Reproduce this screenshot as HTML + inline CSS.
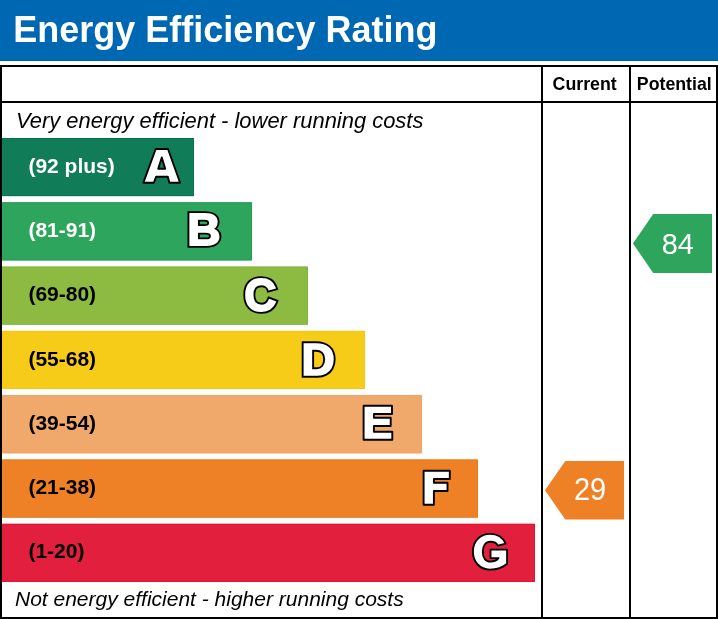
<!DOCTYPE html>
<html>
<head>
<meta charset="utf-8">
<title>Energy Efficiency Rating</title>
<style>
html,body{margin:0;padding:0;background:#fff;}
body{width:718px;height:619px;overflow:hidden;}
svg{display:block;will-change:transform;}
text{font-family:"Liberation Sans",sans-serif;}
.t{font-weight:bold;fill:#fff;font-size:36px;}
.i{font-style:italic;fill:#000;font-size:21px;}
.i2{font-size:21.93px;}
.h{font-weight:bold;fill:#000;font-size:17.75px;}
.r{font-weight:bold;font-size:21px;}
.n{fill:#fff;font-size:29px;}
.L text{font-weight:bold;font-size:44px;stroke-linejoin:miter;stroke-miterlimit:1.5;vector-effect:non-scaling-stroke;}
.P path{fill:#fff;stroke:#000;stroke-width:1.9px;stroke-linejoin:round;}
.Lo{fill:#000;stroke:#000;stroke-width:5.60px;}
.Li{fill:#fff;stroke:#fff;stroke-width:1.80px;}
</style>
</head>
<body>
<svg width="718" height="619" viewBox="0 0 718 619">
<rect x="0" y="0" width="718" height="619" fill="#fff"/>
<!-- header -->
<rect x="0" y="0" width="718" height="61" fill="#0068b2"/>
<rect x="0" y="60" width="718" height="1" fill="#0061ab"/>
<text class="t" x="13.3" y="42">Energy Efficiency Rating</text>
<!-- frame -->
<rect x="0" y="65" width="718" height="2" fill="#000"/>
<rect x="0" y="617" width="718" height="2" fill="#000"/>
<rect x="0" y="65" width="2" height="554" fill="#000"/>
<rect x="716" y="65" width="2" height="554" fill="#000"/>
<rect x="0" y="101" width="718" height="2" fill="#000"/>
<rect x="541" y="65" width="2" height="554" fill="#000"/>
<rect x="629" y="65" width="2" height="554" fill="#000"/>
<!-- column heads -->
<text class="h" x="552.6" y="90">Current</text>
<text class="h" x="636.8" y="90">Potential</text>
<!-- captions -->
<text class="i i2" x="16" y="128">Very energy efficient - lower running costs</text>
<text class="i" x="15" y="606">Not energy efficient - higher running costs</text>
<!-- bars -->
<rect x="2" y="138" width="192" height="58.1" fill="#117d58"/><path d="M2,138.5 H193.5 V195.6 H2" fill="none" stroke="#06744d" stroke-width="1"/>
<rect x="2" y="202.3" width="250" height="58.1" fill="#2da55d"/><path d="M2,202.8 H251.5 V259.9 H2" fill="none" stroke="#239f53" stroke-width="1"/>
<rect x="2" y="266.6" width="306" height="58.1" fill="#8dbb42"/><path d="M2,267.1 H307.5 V324.2 H2" fill="none" stroke="#83b537" stroke-width="1"/>
<rect x="2" y="330.9" width="363" height="58.1" fill="#f6cc18"/><path d="M2,331.4 H364.5 V388.5 H2" fill="none" stroke="#f3c80d" stroke-width="1"/>
<rect x="2" y="395.2" width="420" height="58.1" fill="#f1a86b"/><path d="M2,395.7 H421.5 V452.8 H2" fill="none" stroke="#efa262" stroke-width="1"/>
<rect x="2" y="459.5" width="476" height="58.1" fill="#ee8125"/><path d="M2,460 H477.5 V517.1 H2" fill="none" stroke="#eb7a1c" stroke-width="1"/>
<rect x="2" y="523.8" width="533" height="58.1" fill="#e2203d"/><path d="M2,524.3 H534.5 V581.4 H2" fill="none" stroke="#e01431" stroke-width="1"/>
<!-- ranges -->
<text class="r" x="28.4" y="172.6" fill="#fff">(92 plus)</text>
<text class="r" x="28.4" y="236.9" fill="#fff">(81-91)</text>
<text class="r" x="28.4" y="301.2" fill="#000">(69-80)</text>
<text class="r" x="28.4" y="365.5" fill="#000">(55-68)</text>
<text class="r" x="28.4" y="429.8" fill="#000">(39-54)</text>
<text class="r" x="28.4" y="494.1" fill="#000">(21-38)</text>
<text class="r" x="28.4" y="558.4" fill="#000">(1-20)</text>
<!-- custom letter paths -->
<g class="P">
<path d="M155.7,149 L168,149 L180.1,182.7 L169.4,182.7 L167.8,176.8 L156.1,176.8 L153.9,182.7 L143.4,182.7 Z M161.8,157.5 L158.2,168.7 L165.2,168.7 Z"/>
<path d="M363.6,405.8 H392 V414 H373.9 V417.8 H390.7 V426 H373.9 V431.8 H392.3 V439.8 H363.6 Z"/>
<path d="M423.6,470.8 H449.8 V479 H433.9 V482.8 H447.5 V491 H433.9 V504.8 H423.6 Z"/>
<path d="M505.7,543.6 L497.8,545.6 C496.5,543 493.5,541.8 490.5,541.8 C485.5,541.8 482.8,546 482.8,551.7 C482.8,557.5 485.5,561.6 490.5,561.6 C494,561.6 497,560.5 498.5,558.1 L490.5,558.1 L490.5,549.6 L507.1,549.6 L507.1,563.7 C503,567.5 497,569.6 489.8,569.6 C480,569.6 472.9,562 472.9,551.7 C472.9,541.5 480,533.85 489.8,533.85 C497.5,533.85 503,537.5 505.7,543.6 Z"/>
</g>
<!-- letters -->
<g class="L">
<g transform="matrix(1.0509 0 0 0.9976 187.31 245.20)"><text class="Lo">B</text><text class="Li">B</text></g>
<g transform="matrix(1.0116 0 0 1.0593 244.27 310.54)"><text class="Lo">C</text><text class="Li">C</text></g>
<g transform="matrix(1.0450 0 0 0.9877 301.42 375.30)"><text class="Lo">D</text><text class="Li">D</text></g>
</g>
<!-- arrows -->
<polygon points="545,490.3 565.3,461 624,461 624,519.6 565.3,519.6" fill="#ee8125"/>
<text class="n" transform="matrix(1 0 0 1.05 574 500.4)">29</text>
<polygon points="633,243.5 653.2,214.1 712,214.1 712,272.9 653.2,272.9" fill="#2da55d"/>
<text class="n" transform="matrix(1 0 0 1.045 661.7 254)">84</text>
</svg>
</body>
</html>
